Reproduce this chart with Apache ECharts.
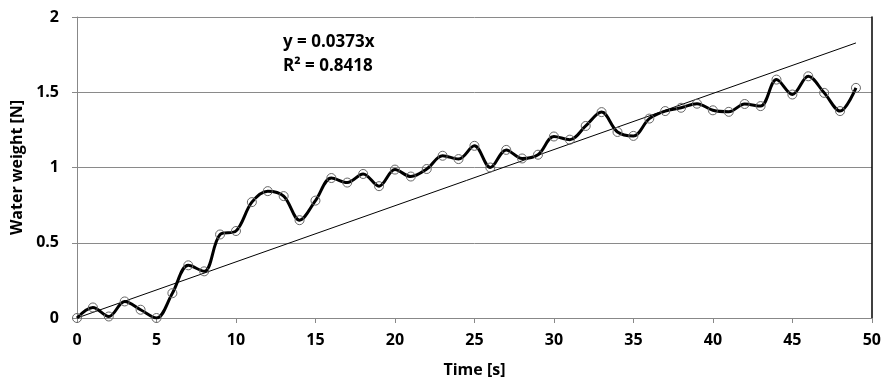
<!DOCTYPE html>
<html>
<head>
<meta charset="utf-8">
<script src="https://cdn.jsdelivr.net/npm/echarts@6/dist/echarts.min.js"></script>
<style>html,body{margin:0;padding:0;background:#fff}#c{width:884px;height:383px}</style>
</head>
<body>
<div id="c"></div>
<script>
var times = [];
for (var i = 0; i < 50; i++) times.push(i);
var weights = [0, 0.07, 0.01, 0.11, 0.055, 0.0, 0.165, 0.35, 0.31, 0.555,
  0.578, 0.77, 0.843, 0.81, 0.65, 0.78, 0.93, 0.90, 0.957, 0.876,
  0.986, 0.94, 0.99, 1.078, 1.056, 1.144, 1.00, 1.117, 1.06, 1.085,
  1.206, 1.185, 1.276, 1.368, 1.236, 1.21, 1.325, 1.375, 1.397, 1.424,
  1.38, 1.37, 1.422, 1.408, 1.584, 1.485, 1.606, 1.496, 1.375, 1.529];
var trendSlope = 0.0373;
var trendR2 = 0.8418;
var trendRange = [0, 49];
var xTicks = [0, 5, 10, 15, 20, 25, 30, 35, 40, 45, 50];
var yTicks = [0, 0.5, 1, 1.5, 2];

var pts = times.map(function (t, i) { return [t, weights[i]]; });
var trend = trendRange.map(function (t) { return [t, trendSlope * t]; });
var font = '"Open Sans", "Liberation Sans", sans-serif';

var chart = echarts.init(document.getElementById('c'), null, {renderer: 'canvas'});
chart.setOption({
  animation: false,
  backgroundColor: '#fff',
  grid: {left: 77, right: 10, top: 17, bottom: 63},
  xAxis: {
    type: 'value', min: 0, max: 50, interval: 5,
    name: 'Time [s]', nameLocation: 'middle', nameGap: 44,
    nameTextStyle: {fontFamily: font, fontWeight: 'bold', fontSize: 16, color: '#000'},
    axisLine: {show: true, onZero: false, lineStyle: {color: '#888', width: 1}},
    axisTick: {show: true, length: 5, lineStyle: {color: '#888'}},
    axisLabel: {fontFamily: font, fontWeight: 'bold', fontSize: 16, color: '#000', margin: 14},
    splitLine: {show: false}
  },
  yAxis: [{
    type: 'value', min: 0, max: 2, interval: 0.5,
    name: 'Water weight [N]', nameLocation: 'middle', nameGap: 52, nameRotate: 90,
    nameTextStyle: {fontFamily: font, fontWeight: 'bold', fontSize: 16, color: '#000'},
    axisLine: {show: true, lineStyle: {color: '#888', width: 1}},
    axisTick: {show: true, length: 5, lineStyle: {color: '#888'}},
    axisLabel: {fontFamily: font, fontWeight: 'bold', fontSize: 16, color: '#000', margin: 18},
    splitLine: {show: true, lineStyle: {color: '#8a8a8a', width: 1}}
  }, {
    type: 'value', min: 0, max: 2, interval: 0.5, position: 'right',
    axisLine: {show: true, lineStyle: {color: '#000', width: 1.5}},
    axisTick: {show: false}, axisLabel: {show: false}, splitLine: {show: false}
  }],
  graphic: [{
    type: 'text', left: 283, top: 34,
    style: {text: 'y = ' + trendSlope + 'x', font: 'bold 17px ' + font, fill: '#000'}
  }, {
    type: 'text', left: 283, top: 58,
    style: {text: 'R² = ' + trendR2, font: 'bold 17px ' + font, fill: '#000'}
  }],
  series: [{
    type: 'line', data: trend, symbol: 'none', silent: true,
    lineStyle: {color: '#000', width: 1}, z: 1
  }, {
    type: 'line', data: pts, smooth: 0.35,
    symbol: 'circle', symbolSize: 9,
    itemStyle: {color: 'rgba(0,0,0,0)', borderColor: '#666', borderWidth: 1},
    lineStyle: {color: '#000', width: 3}, z: 2
  }]
});
</script>
</body>
</html>
